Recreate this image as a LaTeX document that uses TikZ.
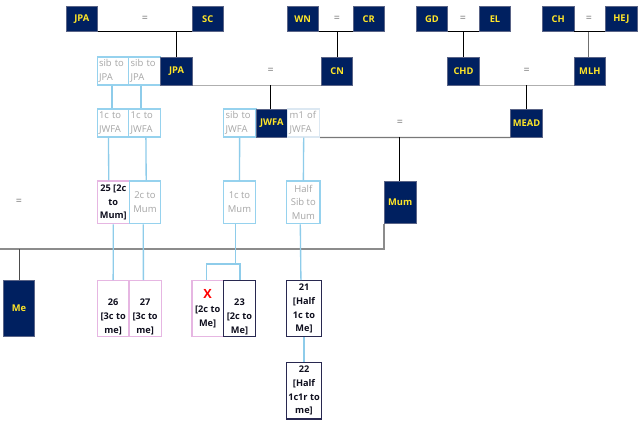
\documentclass[tikz,border=0pt]{standalone}
\usepackage{fontspec}
\setmainfont{Open Sans}
\definecolor{navy}{RGB}{0,32,96}
\definecolor{navybd}{RGB}{90,100,135}
\definecolor{yel}{RGB}{255,230,40}
\definecolor{ltblue}{RGB}{142,204,234}
\definecolor{boxblue}{RGB}{150,210,238}
\definecolor{pinkbd}{RGB}{230,182,226}
\definecolor{txtgray}{RGB}{166,166,166}
\definecolor{eqgray}{RGB}{120,120,120}
\definecolor{linegray}{RGB}{140,140,140}
\definecolor{paleb}{RGB}{220,232,242}
\definecolor{darkbd}{RGB}{40,40,80}
\definecolor{dtxt}{RGB}{15,15,30}
\newcommand\famnode[7]{\node[#2, minimum width={(#5-#3)*0.75pt}, minimum height={(#6-#4)*0.75pt}] (#1) at ({(#3+#5)/2},{(#4+#6)/2}) {#7};}
\begin{document}
\begin{tikzpicture}[x=0.75pt,y=-0.75pt,
  dk/.style={draw=navybd, line width=0.6pt, fill=navy, text=yel, inner sep=0pt,
    font=\fontsize{7}{10}\selectfont\bfseries},
  lt/.style={draw=boxblue, line width=0.8pt, fill=white, text=txtgray, inner sep=0pt,
    align=center, font=\fontsize{7.1}{10.3}\selectfont},
  ltl/.style={lt, text width=21pt, align=left},
  pale/.style={ltl, draw=paleb},
  pk/.style={draw=pinkbd, line width=1pt, fill=white, text=dtxt, inner sep=0pt,
    align=center, font=\fontsize{6.9}{10.3}\selectfont\bfseries},
  dbx/.style={pk, draw=darkbd},
  eq/.style={text=eqgray, inner sep=0pt, font=\fontsize{8}{8}\selectfont},
  blk/.style={draw=black, line width=0.75pt},
  cpl/.style={draw=linegray, line width=0.9pt},
  bl/.style={draw=ltblue, line width=1pt}
]
\useasboundingbox[fill=white] (0,0) rectangle (640,426);
% row 1
\famnode{JPAa}{dk}{66}{6}{97.5}{31.5}{JPA}
\famnode{SC}{dk}{192}{6}{223.5}{31.5}{SC}
\famnode{WN}{dk}{287}{6}{318.5}{31.5}{WN}
\famnode{CR}{dk}{353}{6}{384.5}{31.5}{CR}
\famnode{GD}{dk}{416}{6}{447.7}{31.5}{GD}
\famnode{EL}{dk}{479.3}{6}{510.7}{31.5}{EL}
\famnode{CH}{dk}{542.3}{6}{574}{31.5}{CH}
\famnode{HEJ}{dk}{605.7}{6}{637}{31.5}{HEJ}
\node[eq] (e1) at (145,19) {=};
\node[eq] (e2) at (337,19) {=};
\node[eq] (e3) at (463,19) {=};
\node[eq] (e4) at (589,19) {=};
% row 2
\famnode{sibA}{ltl}{97.3}{57}{128.7}{85}{sib to\\JPA}
\famnode{sibB}{ltl}{128.7}{57}{160.7}{85}{sib to\\JPA}
\famnode{JPAb}{dk}{160.7}{57}{192.3}{85}{JPA}
\famnode{CN}{dk}{321.7}{57}{352.7}{85}{CN}
\famnode{CHD}{dk}{447.7}{57}{479.3}{85}{CHD}
\famnode{MLH}{dk}{574}{57}{605.7}{85}{MLH}
\node[eq] (e5) at (270.7,71) {=};
\node[eq] (e6) at (526.7,71) {=};
% row 3
\famnode{cA}{ltl}{97.3}{109}{128.7}{137}{1c to\\JWFA}
\famnode{cB}{ltl}{128.7}{109}{160.7}{137}{1c to\\JWFA}
\famnode{sibJ}{ltl}{223.3}{109}{256}{137}{sib to\\JWFA}
\famnode{JWFA}{dk}{256}{109}{287.7}{137}{JWFA}
\famnode{mJ}{pale}{287.7}{109}{319.7}{137}{m1 of\\JWFA}
\famnode{MEAD}{dk}{510.7}{109}{542.3}{137}{MEAD}
\node[eq] (e7) at (400,123) {=};
% row 4
\famnode{n25}{pk}{97.3}{181}{129.3}{223.8}{25 {[}2c\\to\\Mum]}
\famnode{c2M}{lt}{129.3}{181}{160.7}{223.8}{2c to\\Mum}
\famnode{c1M}{lt}{223.3}{181}{255.7}{223.8}{1c to\\Mum}
\famnode{hsM}{lt}{286.7}{181}{320}{223.8}{Half\\Sib to\\Mum}
\famnode{Mum}{dk}{384.3}{181}{416}{223.3}{Mum}
\node[eq] (e8) at (19,202) {=};
% bottom
\famnode{Me}{dk}{3.3}{280.7}{34.7}{336.7}{Me}
\famnode{n26}{pk}{97.3}{280.7}{129}{336.7}{\strut\\26\\{[}3c to\\me]}
\famnode{n27}{pk}{129}{280.7}{161.3}{336.7}{\strut\\27\\{[}3c to\\me]}
\famnode{nX}{pk}{192}{280.7}{223.3}{336.7}{{\color{red}\fontsize{9.5}{9}\selectfont X}\\{[}2c to\\Me]}
\famnode{n23}{dbx}{223.3}{280.7}{255.7}{336.7}{\strut\\23\\{[}2c to\\Me]}
\famnode{n21}{dbx}{286.7}{280.7}{321.3}{336.7}{21\\{[}Half\\1c to\\Me]}
\famnode{n22}{dbx}{286.7}{362.3}{321.3}{419}{22\\{[}Half\\1c1r to\\me]}
% couple lines, row 1
\draw[blk] (JPAa.south east) -- (SC.south west);
\draw[blk] (WN.south east) -- (CR.south west);
\draw[blk] (GD.south east) -- (EL.south west);
\draw[blk] (CH.south east) -- (HEJ.south west);
\draw[blk] (JPAb.north) -- (JPAb.north |- SC.south);
\draw[blk] (CN.north) -- (CN.north |- CR.south);
\draw[blk] (CHD.north) -- (CHD.north |- EL.south);
\draw[blk, draw=linegray!80!black] ([xshift=-0.8pt]MLH.north) -- ([xshift=-0.8pt]MLH.north |- HEJ.south);
% couple lines, row 2
\draw[cpl, draw=linegray!70] (JPAb.south east) -- (CN.south west);
\draw[cpl, draw=linegray!70] (CHD.south east) -- (MLH.south west);
\draw[blk] ([xshift=-0.8pt]JWFA.north) -- ([xshift=-0.8pt]JWFA.north |- CN.south);
\draw[blk] (MEAD.north) -- (MEAD.north |- MLH.south);
% couple line, row 3
\draw[cpl, draw=eqgray] (mJ.south east) -- (MEAD.south west);
\draw[blk] ([xshift=-0.8pt]Mum.north) -- ([xshift=-0.8pt]Mum.north |- MEAD.south);
% bottom couple line
\coordinate (L) at (0,249);
\draw[cpl] (Mum.south west) |- (L);
\draw[blk, draw=black!70] (Me.north) -- (Me.north |- L);
% blue lines
\draw[bl] ([xshift=-0.8pt]sibA.south) -- ([xshift=-0.8pt]cA.north);
\draw[bl] ([xshift=-2.8pt]sibB.south) -- ([xshift=-2.8pt]cB.north);
\draw[bl] ([xshift=-3.4pt]cA.south) -- ([xshift=-3.4pt]n25.north);
\draw[bl] ([xshift=0.9pt]cB.south) -- ([xshift=0.9pt]c2M.north);
\draw[bl] (sibJ.south) -- (c1M.north);
\draw[bl] (mJ.south) -- (hsM.north);
\draw[bl] (n25.south) -- (n26.north);
\draw[bl] ([xshift=-1.3pt]c2M.south) -- ([xshift=-1.3pt]n27.north);
\coordinate (br) at (235.7,264);
\draw[bl] (c1M.south -| br) -- (br);
\draw[bl] ([xshift=-0.75pt]nX.north) |- ([xshift=0.4pt]n23.north |- br) -- ([xshift=0.4pt]n23.north);
\draw[bl] ([xshift=-2.3pt]hsM.south) -- ([xshift=-2.3pt]n21.north);
\draw[bl] (n21.south) -- (n22.north);
\end{tikzpicture}
\end{document}
